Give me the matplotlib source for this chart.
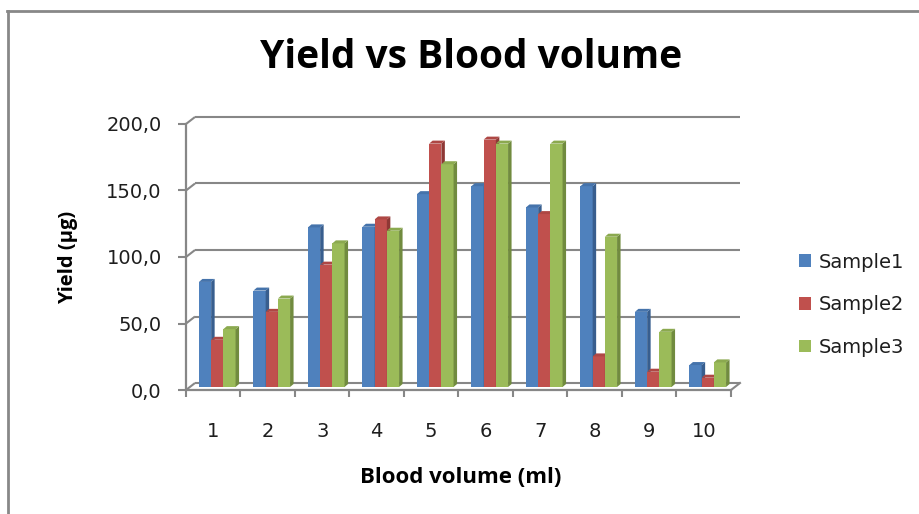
import matplotlib
matplotlib.use("Agg")
import matplotlib.pyplot as plt
from matplotlib.patches import Polygon
from matplotlib.lines import Line2D

# ---- data -------------------------------------------------------------
categories = ["1", "2", "3", "4", "5", "6", "7", "8", "9", "10"]
series_names = ["Sample1", "Sample2", "Sample3"]
sample1 = [79, 72.5, 120, 120.5, 145, 151, 135, 151, 56.5, 16.5]
sample2 = [35.5, 56.5, 92, 126, 183, 186, 130, 23, 11.5, 7]
sample3 = [43.5, 66.5, 108, 117.5, 167.5, 183, 183, 113, 41.5, 18.5]
y_ticks = [0, 50, 100, 150, 200]
y_tick_labels = ["0,0", "50,0", "100,0", "150,0", "200,0"]

# ---- styling ----------------------------------------------------------
front_colors = ["#4F81BD", "#C0504D", "#9BBB59"]
side_colors = ["#385E8E", "#8E3835", "#718B3F"]
top_colors = ["#4573AB", "#AE4744", "#8BA94F"]
grid_color = "#878787"
W, H = 920, 514
DPI = 100

fig = plt.figure(figsize=(W / DPI, H / DPI), dpi=DPI)
fig.patch.set_facecolor("white")

# plot area (front plane of the pseudo-3D box), in pixels
ax_left, ax_right, ax_bottom, ax_top = 186, 731, 390, 124
ax = fig.add_axes([ax_left / W, (H - ax_bottom) / H,
                   (ax_right - ax_left) / W, (ax_bottom - ax_top) / H])
n = len(categories)
ax.set_xlim(0, n)
ax.set_ylim(0, 200)
ax.set_facecolor("none")

# pixel -> data unit factors
px_x = n / (ax_right - ax_left)
px_y = 200 / (ax_bottom - ax_top)

# depth offsets (pixels): back wall, bar front plane, bar depth
wall_dx, wall_dy = 9, 7
bar_dx0, bar_dy0 = 4, 3
bar_ddx, bar_ddy = 3.5, 3

# back wall gridlines with the slanted stubs to the front axis
for v in y_ticks:
    ax.plot([0, wall_dx * px_x], [v, v + wall_dy * px_y],
            color=grid_color, lw=1.5, clip_on=False, zorder=1,
            solid_capstyle="butt")
    ax.plot([wall_dx * px_x, n + wall_dx * px_x],
            [v + wall_dy * px_y] * 2,
            color=grid_color, lw=1.5, clip_on=False, zorder=1,
            solid_capstyle="butt")
# right edge of the floor
ax.plot([n, n + wall_dx * px_x], [0, wall_dy * px_y],
        color=grid_color, lw=1.5, clip_on=False, zorder=1)

# bars: front face + side face + top face
bar_w = 0.224
gap = (1 - 3 * bar_w) / 2
series = [sample1, sample2, sample3]
for i in range(n):
    for j, vals in enumerate(series):
        v = vals[i]
        xl = i + gap + j * bar_w + bar_dx0 * px_x
        xr = xl + bar_w
        y0 = bar_dy0 * px_y
        dx, dy = bar_ddx * px_x, bar_ddy * px_y
        z = 3 + i * 3 + j * 0.1
        ax.bar(xl, v, width=bar_w, bottom=y0, align="edge",
               color=front_colors[j], linewidth=0, zorder=z,
               clip_on=False, label=series_names[j] if i == 0 else None)
        ax.add_patch(Polygon([(xr, y0), (xr, y0 + v), (xr + dx, y0 + v + dy),
                              (xr + dx, y0 + dy)], closed=True,
                             facecolor=side_colors[j], lw=0, zorder=z,
                             clip_on=False))
        ax.add_patch(Polygon([(xl, y0 + v), (xr, y0 + v),
                              (xr + dx, y0 + v + dy), (xl + dx, y0 + v + dy)],
                             closed=True, facecolor=top_colors[j], lw=0,
                             zorder=z, clip_on=False))

# axes lines and ticks
for side in ("top", "right"):
    ax.spines[side].set_visible(False)
for side in ("left", "bottom"):
    ax.spines[side].set_color(grid_color)
    ax.spines[side].set_linewidth(1.6)
    ax.spines[side].set_zorder(2)

ax.set_yticks(y_ticks)
ax.set_yticklabels(y_tick_labels)
ax.tick_params(axis="y", direction="out", length=6, width=1.5,
               color=grid_color, pad=11.5, labelsize=14, labelcolor="#1e1e1e")

ax.set_xticks(range(n + 1))
ax.set_xticklabels([])
ax.set_xticks([i + 0.5 for i in range(n)], minor=True)
ax.set_xticklabels(categories, minor=True)
ax.tick_params(axis="x", which="major", direction="out", length=5,
               width=1.5, color=grid_color)
ax.tick_params(axis="x", which="minor", length=0, pad=23, labelsize=14,
               labelcolor="#1e1e1e")

# titles
bold_font = dict(family=["Open Sans", "DejaVu Sans"], weight="bold",
                 color="black")
fig.text(471 / W, 1 - 68.3 / H, "Yield vs Blood volume", ha="center",
         va="baseline", fontsize=28, **bold_font)
fig.text(460.5 / W, 1 - 483.3 / H, "Blood volume (ml)", ha="center",
         va="baseline", fontsize=16, **bold_font)
fig.text(67.7 / W, 1 - 257 / H, "Yield (µg)", ha="center", va="center",
         rotation=90, fontsize=14.5, **bold_font)

# legend
handles, labels = ax.get_legend_handles_labels()
leg = ax.legend(handles, labels, loc="upper left",
                bbox_to_anchor=(799 / W, 1 - 252.5 / H),
                bbox_transform=fig.transFigure, frameon=False,
                fontsize=14, handlelength=0.62, handleheight=0.62,
                handletextpad=0.4, labelspacing=1.22, borderpad=0,
                borderaxespad=0)
for t in leg.get_texts():
    t.set_color("#1e1e1e")

# chart area border
fig.add_artist(Line2D([8 / W, 8 / W], [0, 1 - 11 / H], color="#888888",
                      lw=2, transform=fig.transFigure))
fig.add_artist(Line2D([7 / W, 1], [1 - 11 / H, 1 - 11 / H], color="#888888",
                      lw=2, transform=fig.transFigure))

fig.savefig("out.png", dpi=DPI, facecolor="white")
